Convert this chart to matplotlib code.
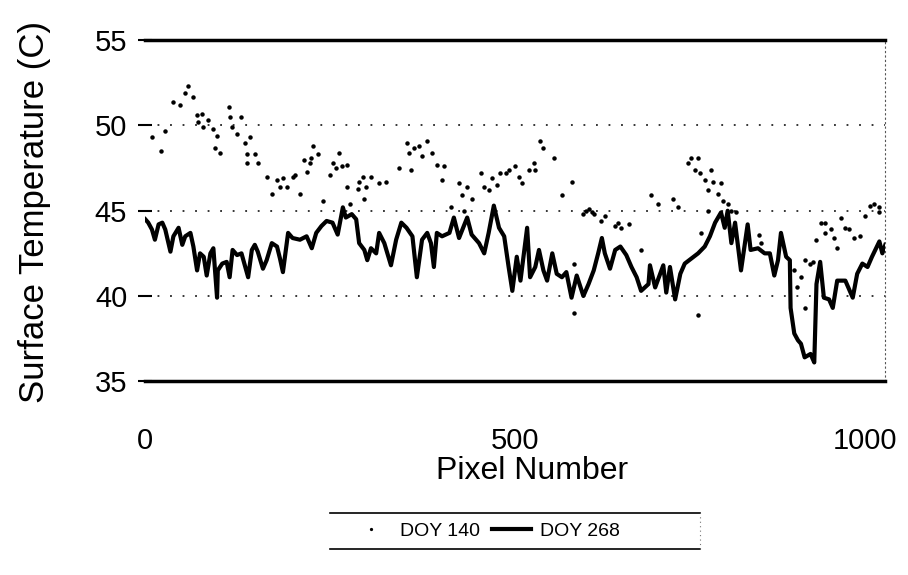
import matplotlib
matplotlib.use("Agg")
import matplotlib.pyplot as plt
from matplotlib.lines import Line2D
from matplotlib.transforms import ScaledTranslation

plt.rcParams['font.family'] = ['Liberation Sans', 'DejaVu Sans']

# DOY 268 (solid line)
doy268_px = [0, 4, 9, 13, 18, 23, 27, 34, 38, 45, 50, 54, 61, 65, 70, 74, 79, 83, 88, 92,
             97, 98, 104, 110, 114, 118, 124, 130, 139, 144, 148, 152, 159, 164, 171, 178,
             182, 186, 193, 199, 209, 218, 225, 231, 238, 245, 253, 260, 267, 271, 279, 285,
             289, 296, 300, 305, 312, 316, 323, 332, 339, 346, 353, 361, 367, 374, 381, 386,
             390, 394, 401, 411, 417, 424, 435, 441, 451, 458, 464, 471, 478, 485, 491, 496,
             502, 507, 516, 520, 527, 532, 538, 543, 550, 556, 563, 569, 576, 583, 592, 599,
             606, 612, 617, 621, 628, 635, 642, 650, 657, 664, 670, 680, 682, 689, 700, 704,
             709, 716, 723, 729, 738, 747, 756, 763, 770, 778, 783, 787, 792, 797, 805, 814,
             818, 828, 837, 844, 850, 855, 859, 866, 871, 872, 877, 882, 886, 891, 899, 904,
             907, 912, 917, 924, 929, 935, 946, 956, 962, 969, 976, 982, 992, 996, 1000]
doy268_temp = [44.5, 44.3, 43.9, 43.3, 44.2, 44.3, 43.9, 42.6, 43.5, 44.0, 43.0, 43.5, 43.7, 42.9,
               41.5, 42.5, 42.3, 41.2, 42.5, 42.8, 39.9, 41.5, 41.9, 42.0, 41.1, 42.7, 42.4, 42.5,
               41.1, 42.7, 43.0, 42.6, 41.6, 42.1, 43.1, 42.9, 42.2, 41.4, 43.7, 43.4, 43.3, 43.5,
               42.8, 43.7, 44.1, 44.4, 44.3, 43.6, 45.2, 44.6, 44.8, 44.5, 43.1, 42.7, 42.1, 42.8,
               42.5, 43.7, 43.1, 41.8, 43.3, 44.3, 44.0, 43.5, 41.1, 43.3, 43.7, 43.1, 41.7, 43.7,
               43.5, 43.7, 44.6, 43.4, 44.6, 43.6, 43.1, 42.5, 43.7, 45.3, 44.0, 43.5, 41.7, 40.3,
               42.3, 40.9, 44.0, 41.1, 41.7, 42.7, 41.5, 40.9, 42.5, 41.3, 41.1, 41.4, 39.9, 41.2,
               40.0, 40.7, 41.5, 42.5, 43.4, 42.5, 41.6, 42.7, 42.9, 42.4, 41.7, 41.1, 40.3, 40.7,
               41.8, 40.5, 41.8, 40.2, 41.7, 39.8, 41.3, 41.9, 42.2, 42.5, 42.9, 43.5, 44.3, 44.9,
               44.0, 45.0, 43.1, 44.3, 41.5, 44.2, 42.7, 42.8, 42.5, 42.5, 41.2, 42.1, 43.7, 42.3,
               42.1, 39.3, 37.8, 37.4, 37.2, 36.4, 36.6, 36.1, 40.7, 42.0, 39.9, 39.8, 39.3, 40.9,
               40.9, 39.9, 41.3, 41.9, 41.7, 42.3, 43.2, 42.5, 43.0]

# DOY 140 (scattered dots)
doy140_px = [9, 21, 27, 38, 47, 54, 58, 65, 70, 71, 77, 78, 85, 92, 94, 97, 101, 113, 114, 117,
             124, 130, 135, 137, 137, 141, 148, 152, 164, 171, 178, 182, 186, 191, 199, 202, 209,
             215, 219, 222, 224, 226, 233, 240, 249, 253, 258, 262, 266, 272, 273, 276, 287, 289,
             294, 296, 298, 305, 316, 325, 343, 353, 357, 359, 363, 370, 374, 381, 388, 394, 401,
             404, 413, 424, 428, 431, 435, 441, 454, 458, 464, 468, 475, 480, 487, 491, 500, 505,
             509, 518, 525, 527, 534, 538, 552, 563, 576, 579, 579, 592, 595, 599, 603, 606, 616,
             621, 635, 639, 643, 653, 670, 684, 693, 713, 720, 733, 738, 743, 747, 747, 750, 751,
             756, 760, 760, 765, 767, 774, 778, 781, 787, 792, 798, 830, 832, 877, 881, 886, 891,
             891, 898, 902, 906, 913, 918, 919, 926, 931, 935, 940, 945, 951, 958, 966, 973, 980,
             985, 992, 992]
doy140_temp = [49.3, 48.5, 49.7, 51.4, 51.2, 51.9, 52.3, 51.7, 50.6, 50.2, 50.7, 49.9, 50.3, 49.8,
               48.7, 49.4, 48.4, 51.1, 50.5, 49.9, 49.5, 50.5, 49.0, 48.3, 47.8, 49.3, 48.3, 47.8,
               47.0, 46.0, 46.8, 46.4, 46.9, 46.4, 47.0, 47.1, 46.0, 48.0, 47.3, 47.8, 48.1, 48.8,
               48.3, 45.6, 47.1, 47.8, 47.5, 48.4, 47.6, 46.4, 47.7, 45.4, 46.3, 46.7, 47.0, 45.7,
               46.4, 47.0, 46.6, 46.7, 47.5, 49.0, 48.4, 47.4, 48.7, 48.8, 48.2, 49.1, 48.4, 47.7,
               46.8, 47.6, 45.2, 46.6, 45.9, 45.0, 46.4, 45.7, 47.2, 46.4, 46.2, 46.9, 46.5, 47.2,
               47.2, 47.4, 47.6, 47.0, 46.6, 47.4, 47.8, 47.4, 49.1, 48.7, 48.1, 45.9, 46.7, 41.9,
               39.0, 44.8, 45.0, 45.1, 44.9, 44.8, 44.4, 44.7, 44.1, 44.3, 44.0, 44.2, 42.7, 45.9,
               45.4, 45.7, 45.2, 47.8, 48.1, 47.4, 48.1, 38.9, 47.2, 43.7, 46.8, 46.2, 45.0, 47.4,
               46.7, 46.0, 46.6, 45.6, 45.4, 45.0, 44.9, 43.6, 43.1, 41.5, 40.5, 41.1, 42.1, 39.3,
               41.9, 42.0, 43.3, 44.3, 43.7, 44.3, 43.9, 43.4, 42.8, 44.6, 44.0, 43.9, 43.4, 43.5,
               44.7, 45.3, 45.4, 45.2, 44.9]

y_ticks = [35, 40, 45, 50, 55]
x_ticks = [0, 500, 1000]

fig = plt.figure(figsize=(9.08, 5.75), dpi=100)
ax = fig.add_axes([0.16, 0.337, 0.815, 0.593])

ax.plot(doy140_px, doy140_temp, linestyle='none', marker='o', markersize=2.2,
        color='black', label='DOY 140')
ax.plot(doy268_px, doy268_temp, color='black', linewidth=3.0, label='DOY 268')

ax.set_xlim(0, 1000)
ax.set_ylim(35, 55)
ax.set_yticks(y_ticks)
ax.set_xticks(x_ticks)

# dotted grid at the interior values only
for t in [40, 45, 50]:
    ax.axhline(t, color='black', linewidth=1.1, linestyle=(0, (1.2, 7)), zorder=0)

for side in ['top', 'bottom']:
    ax.spines[side].set_linewidth(2.5)
ax.spines['left'].set_visible(False)
ax.spines['right'].set_linestyle((0, (1, 3)))
ax.spines['right'].set_linewidth(0.8)
ax.spines['right'].set_color('#555555')

ax.tick_params(axis='y', direction='inout', length=10, width=1.5, pad=8, labelsize=21)
ax.tick_params(axis='x', length=0, pad=33, labelsize=21)

# the 1000 label sits a little left of its tick in the original
last = ax.xaxis.get_major_ticks()[-1].label1
last.set_transform(last.get_transform() + ScaledTranslation(-0.2, 0, fig.dpi_scale_trans))

ax.set_xlabel('Pixel Number', fontsize=23)
ax.xaxis.set_label_coords(0.523, -0.22)
ax.set_ylabel('Surface Temperature (C)', fontsize=25)
ax.yaxis.set_label_coords(-0.128, 0.496)

leg = ax.legend(loc='center', bbox_to_anchor=(0.535, 0.0765), bbox_transform=fig.transFigure,
                ncol=2, frameon=False, fontsize=14, handlelength=2.0, handletextpad=0.5,
                columnspacing=0.6, markerscale=0.6)

# legend box edges
fig.add_artist(Line2D([0.363, 0.771], [0.108, 0.108], color='black', linewidth=1.2))
fig.add_artist(Line2D([0.363, 0.771], [0.045, 0.045], color='black', linewidth=1.2))
fig.add_artist(Line2D([0.771, 0.771], [0.045, 0.108], color='#777777', linewidth=0.8,
                      linestyle=(0, (1, 3))))

fig.savefig('out.png', dpi=100)
